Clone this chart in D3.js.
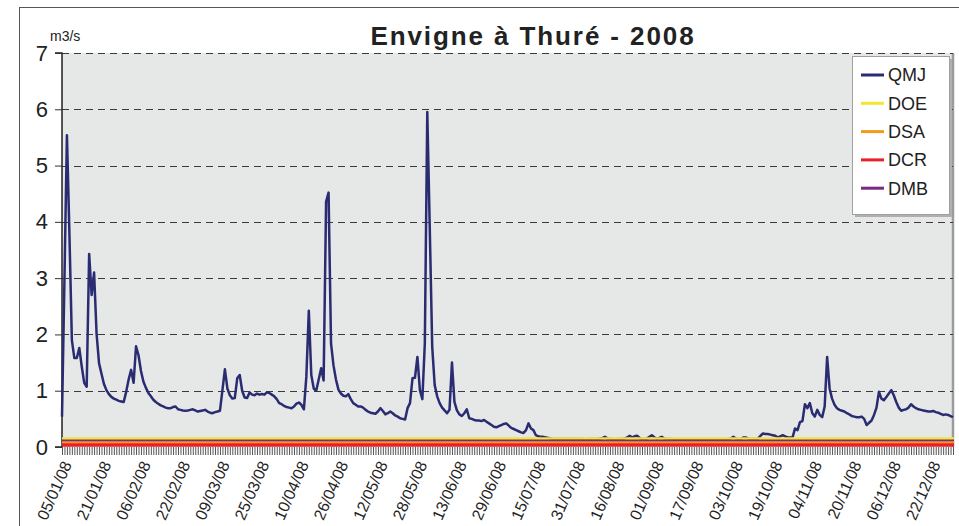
<!DOCTYPE html>
<html>
<head>
<meta charset="utf-8">
<script src="https://cdn.jsdelivr.net/npm/d3@7"></script>
<style>
  html, body { margin: 0; padding: 0; background: #ffffff; }
  svg { display: block; font-family: "Liberation Sans", Arial, sans-serif; }
</style>
</head>
<body>
<svg id="chart" width="959" height="526"></svg>
<script>
// ---------------- DATA ----------------
const title = "Envigne à Thuré - 2008";
const unitLabel = "m3/s";
const startDay = "2008-01-05";
const endDayExclusive = "2009-01-01";
const yTicks = [0, 1, 2, 3, 4, 5, 6, 7];
const xTickLabels = ["05/01/08","21/01/08","06/02/08","22/02/08","09/03/08","25/03/08","10/04/08","26/04/08",
  "12/05/08","28/05/08","13/06/08","29/06/08","15/07/08","31/07/08","16/08/08","01/09/08","17/09/08",
  "03/10/08","19/10/08","04/11/08","20/11/08","06/12/08","22/12/08"];
const seriesNames = ["QMJ", "DOE", "DSA", "DCR", "DMB"];

// daily mean flow QMJ (m3/s), 05/01/08 .. 31/12/08
const qmj = [
  0.54, 3.0, 5.54, 3.8, 1.9, 1.58, 1.58, 1.76, 1.43, 1.14,
  1.07, 3.43, 2.7, 3.1, 2.02, 1.49, 1.3, 1.12, 1.01, 0.94,
  0.89, 0.86, 0.84, 0.82, 0.81, 0.80, 0.98, 1.2, 1.37, 1.14,
  1.79, 1.63, 1.35, 1.16, 1.05, 0.96, 0.9, 0.84, 0.8, 0.77,
  0.74, 0.72, 0.7, 0.69, 0.69, 0.71, 0.72, 0.67, 0.66, 0.65,
  0.645, 0.65, 0.66, 0.67, 0.65, 0.63, 0.64, 0.65, 0.66, 0.63,
  0.61, 0.6, 0.62, 0.63, 0.645, 1.01, 1.38, 1.04, 0.92, 0.86,
  0.87, 1.22, 1.28, 1.0, 0.88, 0.87, 0.97, 0.93, 0.92, 0.95,
  0.93, 0.94, 0.93, 0.97, 0.96, 0.93, 0.9, 0.85, 0.78, 0.76,
  0.73, 0.71, 0.7, 0.69, 0.72, 0.77, 0.79, 0.75, 0.67, 1.25,
  2.42, 1.28, 1.04, 1.0, 1.2, 1.4, 1.18, 4.36, 4.52, 1.84,
  1.45, 1.2, 1.02, 0.95, 0.91, 0.9, 0.94, 0.85, 0.78, 0.75,
  0.72, 0.72, 0.7, 0.66, 0.63, 0.61, 0.6, 0.59, 0.63, 0.69,
  0.64, 0.58, 0.6, 0.63, 0.6, 0.56, 0.54, 0.51, 0.5, 0.49,
  0.69, 0.78, 1.22, 1.23, 1.6, 1.01, 0.85, 1.84, 5.95, 3.9,
  1.78, 1.1, 0.9, 0.78, 0.7, 0.65, 0.6, 0.66, 1.5, 0.8,
  0.65, 0.58, 0.55, 0.6, 0.67, 0.51, 0.5, 0.48, 0.47, 0.47,
  0.46, 0.48, 0.45, 0.42, 0.39, 0.36, 0.35, 0.37, 0.39, 0.41,
  0.42, 0.38, 0.34, 0.32, 0.3, 0.28, 0.26, 0.25, 0.3, 0.42,
  0.33, 0.3, 0.21, 0.19, 0.18, 0.18, 0.17, 0.16, 0.15, 0.14,
  0.14, 0.14, 0.14, 0.14, 0.14, 0.14, 0.14, 0.14, 0.14, 0.14,
  0.14, 0.14, 0.13, 0.14, 0.14, 0.14, 0.14, 0.14, 0.15, 0.16,
  0.18, 0.15, 0.14, 0.14, 0.13, 0.14, 0.14, 0.14, 0.15, 0.17,
  0.2, 0.17, 0.19, 0.2, 0.16, 0.14, 0.14, 0.15, 0.18, 0.21,
  0.17, 0.15, 0.16, 0.18, 0.15, 0.14, 0.14, 0.14, 0.13, 0.13,
  0.13, 0.13, 0.13, 0.13, 0.13, 0.13, 0.13, 0.13, 0.13, 0.13,
  0.13, 0.13, 0.13, 0.13, 0.13, 0.13, 0.13, 0.13, 0.13, 0.13,
  0.14, 0.15, 0.18, 0.15, 0.14, 0.14, 0.17, 0.17, 0.15, 0.14,
  0.14, 0.14, 0.15, 0.2, 0.24, 0.23, 0.23, 0.22, 0.21, 0.2,
  0.17, 0.19, 0.21, 0.19, 0.17, 0.17, 0.17, 0.33, 0.3, 0.44,
  0.46, 0.76, 0.69, 0.78, 0.6, 0.54, 0.66, 0.57, 0.53, 0.72,
  1.6, 1.04, 0.86, 0.75, 0.69, 0.66, 0.645, 0.63, 0.6, 0.58,
  0.55, 0.54, 0.53, 0.53, 0.54, 0.5, 0.39, 0.43, 0.47, 0.57,
  0.7, 0.98, 0.86, 0.83, 0.89, 0.95, 1.01, 0.92, 0.8, 0.7,
  0.645, 0.66, 0.67, 0.7, 0.76, 0.72, 0.69, 0.67, 0.66, 0.65,
  0.64, 0.63, 0.63, 0.64, 0.62, 0.61, 0.59, 0.57, 0.58, 0.57,
  0.55, 0.53
];
// threshold flows (m3/s)
const doe = 0.15;
const dsa = 0.08;
const dcr = 0.035;
const dmb = 0.11;

// ---------------- CHART ----------------
const fmt = d3.timeFormat("%d/%m/%y");
const parse = d3.timeParse("%Y-%m-%d");
const days = d3.timeDay.range(parse(startDay), parse(endDayExclusive)).map(fmt);

const svg = d3.select("#chart");
const M = { left: 62, right: 953, top: 53, bottom: 447 };

const x = d3.scalePoint().domain(days).range([M.left, M.right]);
const y = d3.scaleLinear().domain([0, 7]).range([M.bottom, M.top]);

// outer chart border
svg.append("rect").attr("x", 19.5).attr("y", 7.5).attr("width", 1100).attr("height", 700)
  .attr("fill", "none").attr("stroke", "#555").attr("stroke-width", 1);

// plot area
svg.append("rect").attr("x", M.left).attr("y", M.top).attr("width", M.right - M.left).attr("height", M.bottom - M.top)
  .attr("fill", "#e6e7e7");
svg.append("line").attr("x1", M.right).attr("x2", M.right).attr("y1", M.top).attr("y2", M.bottom)
  .attr("stroke", "#9c9c9c").attr("stroke-width", 2.5);

// gridlines
svg.append("g").selectAll("line").data(yTicks.filter(d => d > 0)).join("line")
  .attr("x1", M.left).attr("x2", M.right)
  .attr("y1", d => Math.round(y(d)) + 0.5).attr("y2", d => Math.round(y(d)) + 0.5)
  .attr("stroke", "#3a3a3a").attr("stroke-width", 1).attr("stroke-dasharray", "7,5");

// y axis
const yAxis = d3.axisLeft(y).tickValues(yTicks).tickSize(7).tickPadding(7).tickFormat(d3.format("d"));
const gy = svg.append("g").attr("transform", `translate(${M.left},0)`).call(yAxis);
gy.select(".domain").attr("stroke", "#222").attr("stroke-width", 1.5).attr("d", `M-7,${M.bottom}H0V${M.top}H-7`);
gy.selectAll(".tick line").attr("stroke", "#333");
gy.selectAll(".tick text").attr("font-size", 22).attr("fill", "#222")
  .attr("font-family", "'Liberation Sans', Arial, sans-serif");

// unit label
svg.append("text").attr("x", 50).attr("y", 41).attr("font-size", 14).attr("fill", "#222").text(unitLabel);

// x axis: daily ticks
const xAxis = d3.axisBottom(x).tickSize(8).tickFormat("");
const gx = svg.append("g").attr("transform", `translate(0,${M.bottom})`).call(xAxis);
gx.select(".domain").remove();
gx.selectAll(".tick line").attr("stroke", "#555").attr("stroke-width", 1);

// x labels
svg.append("g").selectAll("text").data(xTickLabels).join("text")
  .attr("transform", d => `translate(${x(d) + 5},${462}) rotate(-66)`)
  .attr("text-anchor", "end").attr("dy", "0.35em")
  .attr("font-size", 16).attr("fill", "#222")
  .text(d => d);

// threshold lines
const thresholds = [
  { name: "DOE", v: doe, color: "#f2e633", w: 2.5 },
  { name: "DMB", v: dmb, color: "#7a2a85", w: 2.5 },
  { name: "DSA", v: dsa, color: "#f29a1e", w: 2.5 },
  { name: "DCR", v: dcr, color: "#ea1f28", w: 3.5 }
];

// QMJ line
const line = d3.line().x((d, i) => x(days[i])).y(d => y(d));
svg.append("path").datum(qmj).attr("d", line)
  .attr("fill", "none").attr("stroke", "#2a2c72").attr("stroke-width", 2.5).attr("stroke-linejoin", "round");

svg.append("g").selectAll("line").data(thresholds).join("line")
  .attr("x1", M.left).attr("x2", M.right + 1)
  .attr("y1", d => y(d.v)).attr("y2", d => y(d.v))
  .attr("stroke", d => d.color).attr("stroke-width", d => d.w);

// title
svg.append("text").attr("x", 533).attr("y", 45).attr("text-anchor", "middle")
  .attr("font-size", 26).attr("font-weight", "bold").attr("letter-spacing", 1.9)
  .attr("fill", "#222").text(title);

// legend
const legendColors = { QMJ: "#2a2c72", DOE: "#f2e633", DSA: "#f29a1e", DCR: "#ea1f28", DMB: "#7a2a85" };
const lg = svg.append("g");
lg.append("rect").attr("x", 855).attr("y", 59).attr("width", 97).attr("height", 158).attr("fill", "#b0b0b0");
lg.append("rect").attr("x", 852.5).attr("y", 56.5).attr("width", 97).attr("height", 158)
  .attr("fill", "#ffffff").attr("stroke", "#a0a0a0").attr("stroke-width", 1);
const rows = lg.selectAll("g.row").data(seriesNames).join("g")
  .attr("transform", (d, i) => `translate(0,${75 + i * 28.3})`);
rows.append("line").attr("x1", 861).attr("x2", 884).attr("y1", 0).attr("y2", 0)
  .attr("stroke", d => legendColors[d]).attr("stroke-width", 3);
rows.append("text").attr("x", 888).attr("y", 0).attr("dy", "0.36em")
  .attr("font-size", 18).attr("fill", "#222").text(d => d);
</script>
</body>
</html>
